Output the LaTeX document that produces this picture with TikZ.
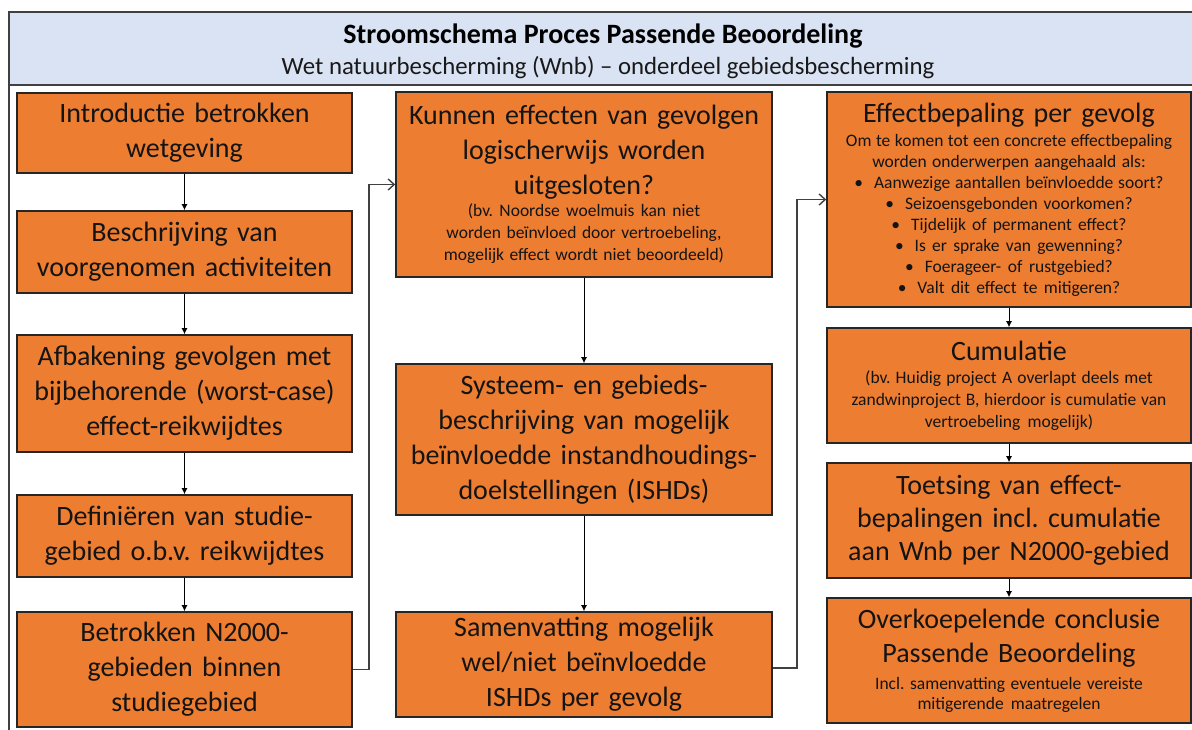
\documentclass[tikz,border=0pt]{standalone}
\usepackage{fontspec}
\setmainfont{Carlito}
\usetikzlibrary{arrows.meta}
\definecolor{boxorange}{HTML}{ED7D31}
\definecolor{hdrblue}{HTML}{DAE3F3}
\definecolor{edgecol}{HTML}{262626}
\definecolor{wire}{HTML}{404040}
\newcommand\subtxt[1]{\fontsize{17.5}{#1}\selectfont\spaceskip=0pt\xspaceskip=0pt\relax}
\newcommand\bul{\textbullet\hspace{11pt}}
\frenchspacing
\begin{document}
\begin{tikzpicture}[x=1pt,y=-1pt,
  box/.style={draw=edgecol, line width=1.6pt, fill=boxorange, inner sep=0pt, align=center,
              text=black!92, font=\fontsize{28}{35}\selectfont\frenchspacing},
  lbox/.style={box, minimum width=335pt, text width=327pt},
  mbox/.style={box, minimum width=376pt, text width=368pt},
  rbox/.style={box, minimum width=364pt, text width=358pt},
  down/.style={draw=black, line width=1pt, -{Latex[length=6pt,width=6pt]}},
  elbow/.style={draw=wire, line width=1.4pt, -{Straight Barb[length=6pt,width=11pt]}}
]
\useasboundingbox (0,0) rectangle (1192,729);
\clip (0,0) rectangle (1192,729);
\fill[white] (0,0) rectangle (1192,729);
% frame and header
\draw[wire, line width=1.8pt] (9,12) rectangle (1210,745);
\draw[wire, line width=1.8pt, fill=hdrblue] (9,12) rectangle (1210,85);
\node[font=\fontsize{28}{32}\selectfont\bfseries, text=black] (title) at (603,36) {Stroomschema Proces Passende Beoordeling};
\node[font=\fontsize{24.8}{30}\selectfont, text=black!90] (subtitle) at (608,68) {Wet natuurbescherming (Wnb) – onderdeel gebiedsbescherming};

% left column
\node[lbox, minimum height=80pt] (b1) at (184.5,133) {Introductie betrokken\\ wetgeving};
\node[lbox, minimum height=82pt] (b2) at (184.5,252) {Beschrijving van\\ voorgenomen activiteiten};
\node[lbox, minimum height=117pt] (b3) at (184.5,393.5) {Afbakening gevolgen met\\ bijbehorende (worst-case)\\ effect-reikwijdtes};
\node[lbox, minimum height=82pt] (b4) at (184.5,536) {Definiëren van studie-\\ gebied o.b.v. reikwijdtes};
\node[lbox, minimum height=115pt] (b5) at (184.5,669.5) {Betrokken N2000-\\ gebieden binnen\\ studiegebied};

% middle column
\node[mbox, minimum height=185pt] (m1) at (584,184.5) {Kunnen effecten van gevolgen\\ logischerwijs worden\\ uitgesloten?\\[0pt]
  {\subtxt{22}(bv. Noordse woelmuis kan niet\\ worden beïnvloed door vertroebeling,\\ mogelijk effect wordt niet beoordeeld)\par}};
\node[mbox, minimum height=151pt] (m2) at (584,439.5) {Systeem- en gebieds-\\ beschrijving van mogelijk\\ beïnvloedde instandhoudings-\\ doelstellingen (ISHDs)};
\node[mbox, minimum height=105pt] (m3) at (584,664.5) {Samenvatting mogelijk\\ wel/niet beïnvloedde\\ ISHDs per gevolg};

% right column
\node[rbox, minimum height=215pt] (r1) at (1009,199.5) {Effectbepaling per gevolg\\[3pt]
  {\subtxt{21}Om te komen tot een concrete effectbepaling\\ worden onderwerpen aangehaald als:\\
   \bul Aanwezige aantallen beïnvloedde soort?\\
   \bul Seizoensgebonden voorkomen?\\
   \bul Tijdelijk of permanent effect?\\
   \bul Is er sprake van gewenning?\\
   \bul Foerageer- of rustgebied?\\
   \bul Valt dit effect te mitigeren?\par}};
\node[rbox, minimum height=115pt] (r2) at (1009,385.5) {Cumulatie\\[1pt]
  {\subtxt{22}(bv. Huidig project A overlapt deels met\\ zandwinproject B, hierdoor is cumulatie van\\ vertroebeling mogelijk)\par}};
\node[rbox, minimum height=115pt, font=\fontsize{28}{33}\selectfont\frenchspacing] (r3) at (1009,520.5) {Toetsing van effect-\\ bepalingen incl. cumulatie\\ aan Wnb per N2000-gebied};
\node[rbox, minimum height=125pt, font=\fontsize{28}{34}\selectfont\frenchspacing] (r4) at (1009,660.5) {Overkoepelende conclusie\\ Passende Beoordeling\\[7pt]
  {\subtxt{20}Incl. samenvatting eventuele vereiste\\ mitigerende maatregelen\par}};

% connectors
\draw[down] (b1) -- (b2);
\draw[down] (b2) -- (b3);
\draw[down] (b3) -- (b4);
\draw[down] (b4) -- (b5);
\draw[down] (m1) -- (m2);
\draw[down] (m2) -- (m3);
\draw[down] (r1) -- (r2);
\draw[down] (r2) -- (r3);
\draw[down] (r3) -- (r4);
\draw[elbow] (b5.east) -- ++(16,0) |- (m1.west);
\coordinate (m3out) at ([yshift=-3.5pt]m3.east);
\draw[elbow] (m3out) -- ++(24,0) |- (r1.west);
\end{tikzpicture}
\end{document}
